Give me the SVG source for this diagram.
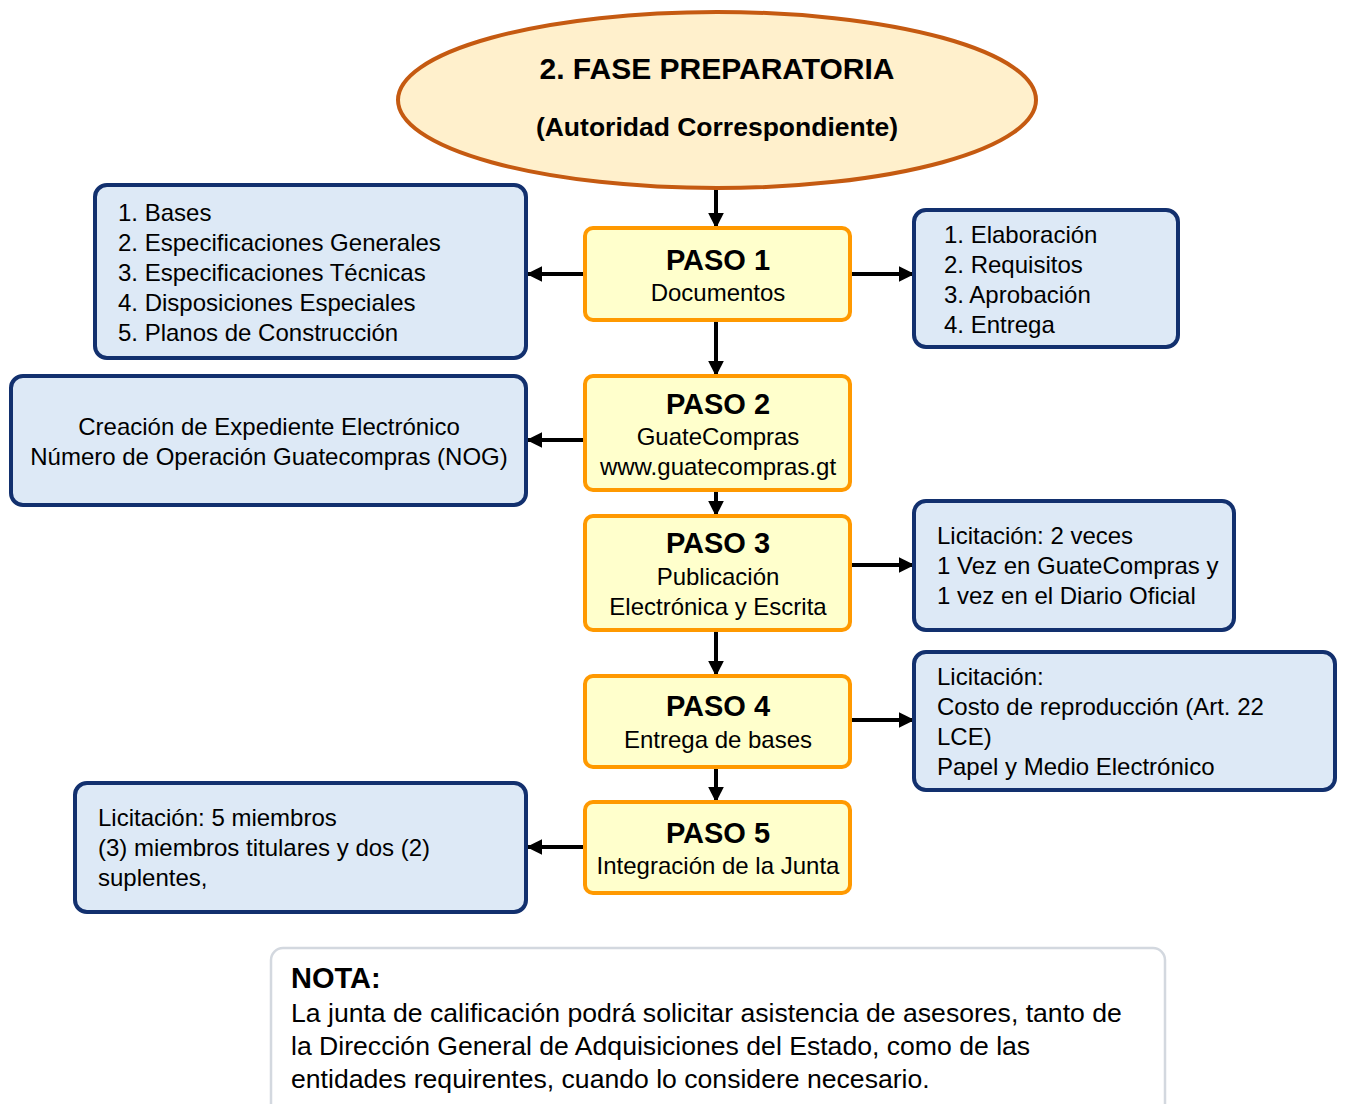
<svg xmlns="http://www.w3.org/2000/svg" width="1345" height="1104" viewBox="0 0 1345 1104">
<defs>
<style>
.t{font-family:"Liberation Sans",Arial,sans-serif;fill:#000}
.paso{fill:#FFFFCC;stroke:#FF9900;stroke-width:4}
.info{fill:#DDE9F6;stroke:#12306E;stroke-width:4}
.h{font-size:29px;font-weight:bold;text-anchor:middle}
.s{font-size:24px;text-anchor:middle}
.b{font-size:24px}
.n{font-size:26.6px}
.c{stroke:#000;stroke-width:4;fill:none;marker-end:url(#ah)}
</style>
<marker id="ah" viewBox="0 0 10 10" refX="9" refY="5" markerWidth="4" markerHeight="4" orient="auto" markerUnits="strokeWidth">
<path d="M0,0 L10,5 L0,10 z" fill="#000"/>
</marker>
</defs>
<rect width="1345" height="1104" fill="#fff"/>
<g id="connectors">
<line class="c" x1="716" y1="188" x2="716" y2="227"/>
<line class="c" x1="716" y1="320" x2="716" y2="375"/>
<line class="c" x1="716" y1="490" x2="716" y2="515"/>
<line class="c" x1="716" y1="614" x2="716" y2="675"/>
<line class="c" x1="716" y1="767" x2="716" y2="801"/>
<line class="c" x1="585" y1="274" x2="528" y2="274"/>
<line class="c" x1="850" y1="274" x2="913" y2="274"/>
<line class="c" x1="585" y1="440" x2="528" y2="440"/>
<line class="c" x1="850" y1="565" x2="913" y2="565"/>
<line class="c" x1="850" y1="720" x2="913" y2="720"/>
<line class="c" x1="585" y1="847" x2="528" y2="847"/>
</g>
<g id="fase">
<ellipse cx="717" cy="100" rx="319" ry="88" fill="#FFF0CC" stroke="#C55A11" stroke-width="4"/>
<text class="t" x="717" y="79" style="font-size:30px;font-weight:bold;text-anchor:middle">2. FASE PREPARATORIA</text>
<text class="t" x="717" y="136" style="font-size:26.5px;font-weight:bold;text-anchor:middle">(Autoridad Correspondiente)</text>
</g>
<g id="paso1">
<rect class="paso" x="585" y="228" width="265" height="92" rx="8"/>
<text class="t h" x="718" y="270">PASO 1</text>
<text class="t s" x="718" y="301">Documentos</text>
</g>
<g id="paso2">
<rect class="paso" x="585" y="376" width="265" height="114" rx="8"/>
<text class="t h" x="718" y="414">PASO 2</text>
<text class="t s" x="718" y="445">GuateCompras</text>
<text class="t s" x="718" y="475">www.guatecompras.gt</text>
</g>
<g id="paso3">
<rect class="paso" x="585" y="516" width="265" height="114" rx="8"/>
<text class="t h" x="718" y="553">PASO 3</text>
<text class="t s" x="718" y="585">Publicación</text>
<text class="t s" x="718" y="615">Electrónica y Escrita</text>
</g>
<g id="paso4">
<rect class="paso" x="585" y="676" width="265" height="91" rx="8"/>
<text class="t h" x="718" y="716">PASO 4</text>
<text class="t s" x="718" y="748">Entrega de bases</text>
</g>
<g id="paso5">
<rect class="paso" x="585" y="802" width="265" height="91" rx="8"/>
<text class="t h" x="718" y="843">PASO 5</text>
<text class="t s" x="718" y="874">Integración de la Junta</text>
</g>
<g id="docs">
<rect class="info" x="95" y="185" width="431" height="173" rx="12"/>
<text class="t b" x="118" y="221">1. Bases</text>
<text class="t b" x="118" y="251">2. Especificaciones Generales</text>
<text class="t b" x="118" y="281">3. Especificaciones Técnicas</text>
<text class="t b" x="118" y="311">4. Disposiciones Especiales</text>
<text class="t b" x="118" y="341">5. Planos de Construcción</text>
</g>
<g id="proceso">
<rect class="info" x="914" y="210" width="264" height="137" rx="12"/>
<text class="t b" x="944" y="243">1. Elaboración</text>
<text class="t b" x="944" y="273">2. Requisitos</text>
<text class="t b" x="944" y="303">3. Aprobación</text>
<text class="t b" x="944" y="333">4. Entrega</text>
</g>
<g id="expediente">
<rect class="info" x="11" y="376" width="515" height="129" rx="12"/>
<text class="t s" x="269" y="435">Creación de Expediente Electrónico</text>
<text class="t s" x="269" y="465">Número de Operación Guatecompras (NOG)</text>
</g>
<g id="publicacion">
<rect class="info" x="914" y="501" width="320" height="129" rx="12"/>
<text class="t b" x="937" y="544">Licitación: 2 veces</text>
<text class="t b" x="937" y="574">1 Vez en GuateCompras y</text>
<text class="t b" x="937" y="604">1 vez en el Diario Oficial</text>
</g>
<g id="costo">
<rect class="info" x="914" y="652" width="421" height="138" rx="12"/>
<text class="t b" x="937" y="685">Licitación:</text>
<text class="t b" x="937" y="715">Costo de reproducción (Art. 22</text>
<text class="t b" x="937" y="745">LCE)</text>
<text class="t b" x="937" y="775">Papel y Medio Electrónico</text>
</g>
<g id="junta">
<rect class="info" x="75" y="783" width="451" height="129" rx="12"/>
<text class="t b" x="98" y="826">Licitación: 5 miembros</text>
<text class="t b" x="98" y="856">(3) miembros titulares y dos (2)</text>
<text class="t b" x="98" y="886">suplentes,</text>
</g>
<g id="nota">
<rect x="271" y="948" width="894" height="170" rx="12" fill="#fff" stroke="#D3D8DF" stroke-width="2.5"/>
<text class="t" x="291" y="988" style="font-size:29px;font-weight:bold">NOTA:</text>
<text class="t n" x="291" y="1022">La junta de calificación podrá solicitar asistencia de asesores, tanto de</text>
<text class="t n" x="291" y="1055">la Dirección General de Adquisiciones del Estado, como de las</text>
<text class="t n" x="291" y="1088">entidades requirentes, cuando lo considere necesario.</text>
</g>
</svg>
